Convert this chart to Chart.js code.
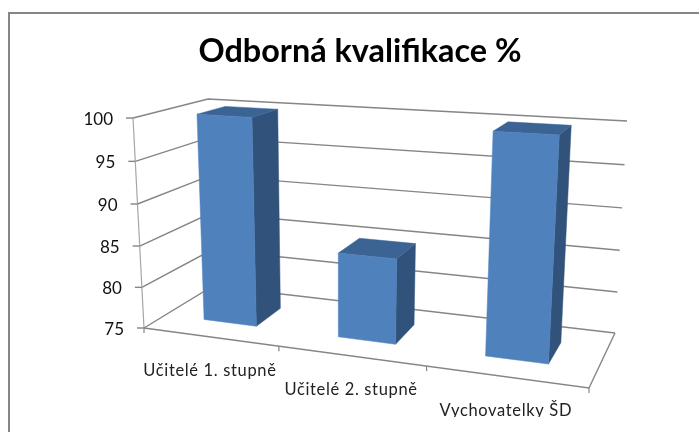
<!DOCTYPE html>
<html>
<head>
<meta charset="utf-8">
<script src="https://cdn.jsdelivr.net/npm/chart.js@4"></script>
<style>html,body{margin:0;padding:0;background:#fff}canvas{display:block}</style>
</head>
<body>
<canvas id="c" width="699" height="432"></canvas>
<script>
const chartTitle = 'Odborná kvalifikace %';
const categories = ['Učitelé 1. stupně', 'Učitelé 2. stupně', 'Vychovatelky ŠD'];
const values = [100, 85, 100];
const yTicks = [75, 80, 85, 90, 95, 100];

// Picture-plane corners of the 3D plot box (front/back, left/right, bottom/top)
const box = {
  flb: [144, 328], frb: [589, 388], blb: [213, 286], brb: [615, 333],
  flt: [133, 118], frt: [603, 146], blt: [208, 99],  brt: [627, 121]
};
const PERSP = 0.87, VWARP = 0.04, D0 = 0.32, D1 = 0.72;
const lerp = (a, b, t) => [a[0] + (b[0] - a[0]) * t, a[1] + (b[1] - a[1]) * t];
function P(u, v, d) {
  const f = PERSP * u / (1 + (PERSP - 1) * u);
  const bot = lerp(lerp(box.flb, box.frb, f), lerp(box.blb, box.brb, f), d);
  const top = lerp(lerp(box.flt, box.frt, f), lerp(box.blt, box.brt, f), d);
  return lerp(bot, top, v - VWARP * v * (1 - v));
}
function poly(ctx, pts, fill) {
  ctx.beginPath();
  pts.forEach((p, i) => i ? ctx.lineTo(p[0], p[1]) : ctx.moveTo(p[0], p[1]));
  ctx.closePath();
  ctx.fillStyle = fill;
  ctx.fill();
  ctx.strokeStyle = fill;
  ctx.lineWidth = 0.5;
  ctx.stroke();
}
function line(ctx, pts, color, w) {
  ctx.beginPath();
  pts.forEach((p, i) => i ? ctx.lineTo(p[0], p[1]) : ctx.moveTo(p[0], p[1]));
  ctx.strokeStyle = color;
  ctx.lineWidth = w;
  ctx.stroke();
}

const plot3d = {
  id: 'plot3d',
  beforeDraw(chart) {
    const ctx = chart.ctx;
    ctx.save();
    line(ctx, [[9, 432], [9, 13], [699, 13]], '#868686', 2);
    ctx.restore();
  },
  beforeDatasetsDraw(chart) {
    const ctx = chart.ctx, ya = chart.scales.y, xa = chart.scales.x, ca = chart.chartArea;
    const W = ca.right - ca.left, H = ca.bottom - ca.top;
    const vOf = val => (ca.bottom - ya.getPixelForValue(val)) / H;
    const GRID = '#858585';
    ctx.save();
    // wall gridlines
    yTicks.forEach(t => {
      const v = vOf(t);
      line(ctx, [P(0, v, 0), P(0, v, 1), P(1, v, 1)], GRID, 1.4);
    });
    // left axis + floor edges
    line(ctx, [P(0, 0, 0), P(0, 1, 0)], '#a6a6a6', 1.2);
    line(ctx, [P(0, 0, 0), P(1, 0, 0), P(1, 0, 1)], GRID, 1.4);
    // value ticks and labels
    ctx.font = '17px Lato';
    ctx.textAlign = 'right';
    ctx.textBaseline = 'middle';
    yTicks.forEach(t => {
      const p = P(0, vOf(t), 0);
      line(ctx, [[p[0] - 7, p[1]], p], GRID, 1.4);
      ctx.fillStyle = '#111';
      ctx.fillText(String(t), p[0] - 20, p[1] + 1.5);
    });
    // category ticks and labels
    const n = categories.length;
    for (let i = 0; i <= n; i++) {
      const p = P(i / n, 0, 0);
      line(ctx, [p, [p[0], p[1] + 5]], GRID, 1.2);
    }
    ctx.save();
    ctx.beginPath();
    ctx.rect(0, 0, 699, 417);
    ctx.clip();
    ctx.font = '16.5px Lato';
    ctx.letterSpacing = '0.65px';
    ctx.textAlign = 'center';
    ctx.fillStyle = '#222';
    categories.forEach((lab, i) => {
      const m = P((xa.getPixelForValue(i) - ca.left) / W, 0, 0);
      ctx.fillText(lab, m[0], m[1] + 34);
    });
    ctx.restore();
    // bars
    chart.getDatasetMeta(0).data.forEach(el => {
      const u0 = (el.x - el.width / 2 - ca.left) / W;
      const u1 = (el.x + el.width / 2 - ca.left) / W;
      const v = (ca.bottom - el.y) / H;
      poly(ctx, [P(u1, 0, D0), P(u1, 0, D1), P(u1, v, D1), P(u1, v, D0)], '#31527a');
      poly(ctx, [P(u0, v, D0), P(u1, v, D0), P(u1, v, D1), P(u0, v, D1)], '#3b6495');
      poly(ctx, [P(u0, 0, D0), P(u1, 0, D0), P(u1, v, D0), P(u0, v, D0)], '#4f81bd');
    });
    ctx.restore();
    return false;
  }
};

new Chart(document.getElementById('c'), {
  type: 'bar',
  data: {
    labels: categories,
    datasets: [{ data: values, backgroundColor: '#4f81bd', barPercentage: 0.4, categoryPercentage: 1 }]
  },
  plugins: [plot3d],
  options: {
    responsive: false,
    animation: false,
    layout: { padding: { left: 21 } },
    plugins: {
      legend: { display: false },
      tooltip: { enabled: false },
      title: {
        display: true,
        text: chartTitle,
        color: '#000',
        font: { family: 'Lato', size: 32.4, weight: 'bold' },
        padding: { top: 32, bottom: 10 }
      }
    },
    scales: {
      x: { display: false },
      y: { display: false, min: 75, max: 100, ticks: { stepSize: 5 } }
    }
  }
});
</script>
</body>
</html>
